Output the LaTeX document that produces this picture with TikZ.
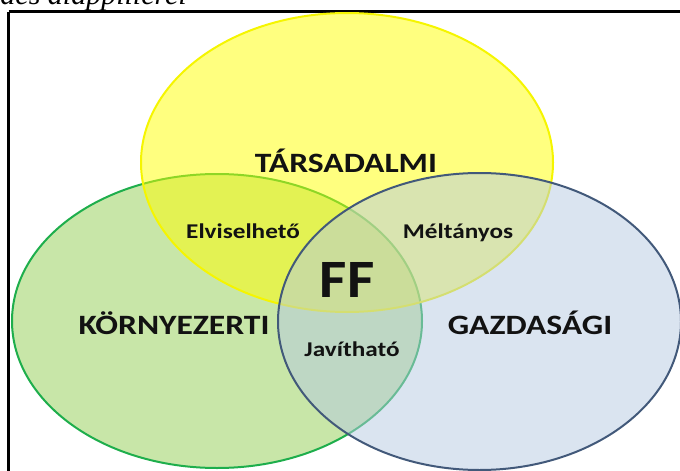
\documentclass[tikz,border=0pt]{standalone}
\usepackage{fontspec}
\setmainfont{Carlito}
\newfontfamily\capfont{Liberation Serif}
\definecolor{yfill}{RGB}{255,255,0}
\definecolor{ydraw}{RGB}{245,245,0}
\definecolor{gfill}{RGB}{145,205,81}
\definecolor{gdraw}{RGB}{30,174,76}
\definecolor{bfill}{RGB}{181,201,225}
\definecolor{bdraw}{RGB}{66,89,122}
\newcommand\hstretch[2]{\scalebox{#1}[1]{#2}}
\begin{document}
\begin{tikzpicture}[x=1pt,y=-1pt,
  circ/.style={line width=2pt, fill opacity=0.5},
  big/.style={font=\bfseries\fontsize{28}{28}\selectfont, inner sep=0pt, anchor=base, text=black!93},
  mid/.style={font=\bfseries\fontsize{21}{21}\selectfont, inner sep=0pt, anchor=base, text=black!93},
  ff/.style={font=\bfseries\fontsize{54}{54}\selectfont, inner sep=0pt, anchor=base, text=black!93},
  frame/.style={draw=black, line width=2.4pt}]
\useasboundingbox (0,0) rectangle (680,471);
\begin{scope}
\clip (0,0) rectangle (680,471);
\node[font=\capfont\itshape\fontsize{30}{30}\selectfont, inner sep=0pt, anchor=base east] (cap) at (187,5) {des alappillérei};
\draw[frame] (8.5,11.5) -- (700,11.5) (8.5,11.5) -- (8.5,490);
\draw[circ, draw=gdraw, fill=gfill] (217,321) ellipse [x radius=205pt, y radius=147pt];
\draw[circ, draw=ydraw, fill=yfill] (347,162.5) ellipse [x radius=206pt, y radius=149.5pt];
\draw[circ, draw=bdraw, fill=bfill] (479.5,321.5) ellipse [x radius=201.5pt, y radius=148.5pt];
\end{scope}
\node[big] (tars) at (346,172) {\hstretch{1.2}{TÁRSADALMI}};
\node[big] (korny) at (174,334) {\hstretch{1.2}{KÖRNYEZERTI}};
\node[big] (gazd) at (530,334) {\hstretch{1.2}{GAZDASÁGI}};
\node[mid] (elv) at (243,238) {\hstretch{1.2}{Elviselhető}};
\node[mid] (melt) at (458,238) {\hstretch{1.2}{Méltányos}};
\node[mid] (jav) at (352,356) {\hstretch{1.2}{Javítható}};
\node[ff] (ff) at (347,297) {\hstretch{1.1}{FF}};
\end{tikzpicture}
\end{document}
